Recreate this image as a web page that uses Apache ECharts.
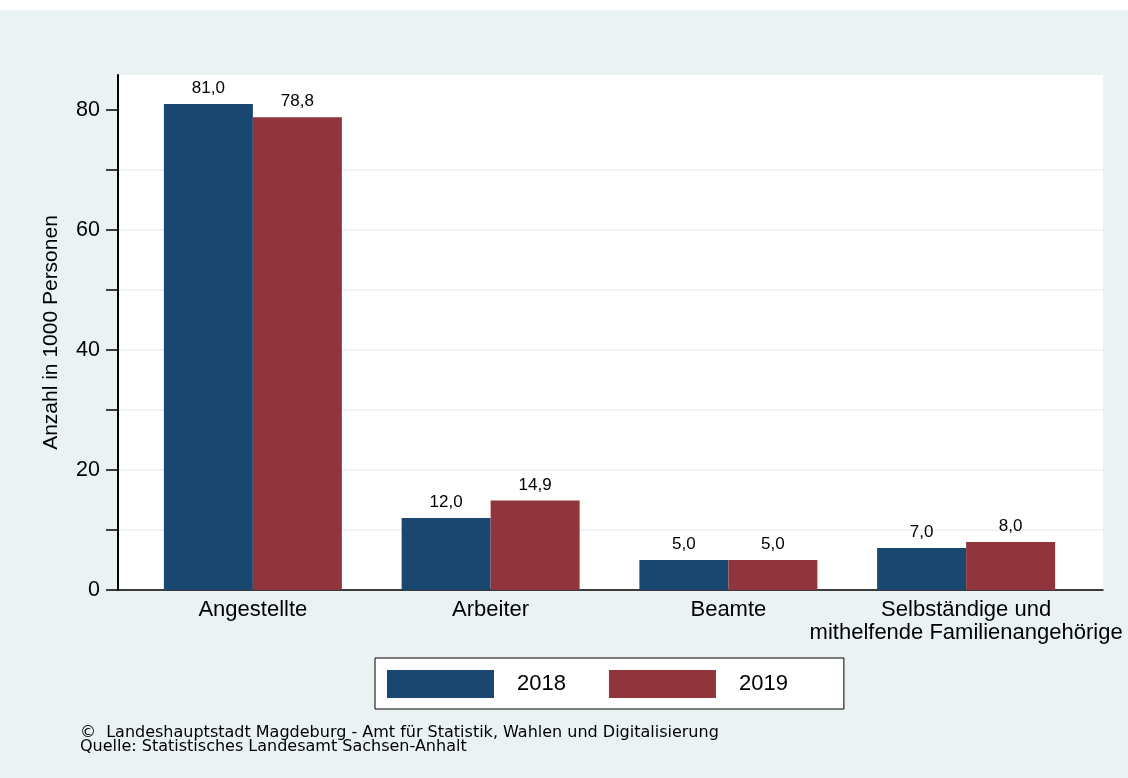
<!DOCTYPE html>
<html>
<head>
<meta charset="utf-8">
<script src="https://cdn.jsdelivr.net/npm/echarts@6/dist/echarts.min.js"></script>
<style>
html,body{margin:0;padding:0;background:#ffffff;}
#chart{width:1128px;height:778px;}
</style>
</head>
<body>
<div id="chart"></div>
<script>
const categories = ['Angestellte', 'Arbeiter', 'Beamte', 'Selbständige und\nmithelfende Familienangehörige'];
const seriesNames = ['2018', '2019'];
const values2018 = [81.0, 12.0, 5.0, 7.0];
const values2019 = [78.8, 14.9, 5.0, 8.0];
const yTickValues = [0, 10, 20, 30, 40, 50, 60, 70, 80];
const yLabelValues = [0, 20, 40, 60, 80];
const yAxisName = 'Anzahl in 1000 Personen';
const footerLines = ['©  Landeshauptstadt Magdeburg - Amt für Statistik, Wahlen und Digitalisierung', 'Quelle: Statistisches Landesamt Sachsen-Anhalt'];

const FONT = 'Liberation Sans, Arial, sans-serif';
const yMin = 0, yMax = 85.83;
const fmt = v => v.toFixed(1).replace('.', ',');

const chart = echarts.init(document.getElementById('chart'), null, {renderer: 'canvas'});

const labelCfg = {
  show: true, position: 'top', distance: 7,
  fontFamily: FONT, fontSize: 17, color: '#000',
  formatter: p => fmt(p.value)
};

chart.setOption({
  backgroundColor: '#eaf2f3',
  animation: false,
  textStyle: {fontFamily: FONT},
  graphic: [
    {type: 'rect', shape: {x: 0, y: 0, width: 1128, height: 10}, style: {fill: '#ffffff'}, z: -1},
    {type: 'text', left: 80, top: 725, style: {text: footerLines.join('\n'), font: '16px "DejaVu Sans", sans-serif', fill: '#000', lineHeight: 13.5}}
  ],
  grid: [
    {left: 118, top: 75, width: 985, height: 515, show: true, backgroundColor: '#ffffff', borderWidth: 0, containLabel: false},
    {left: 134, top: 75, width: 951, height: 515, containLabel: false}
  ],
  legend: {
    data: seriesNames,
    left: 375, top: 658,
    orient: 'horizontal',
    backgroundColor: '#ffffff',
    borderColor: '#000000', borderWidth: 1, borderRadius: 0,
    padding: [12, 56, 11, 12],
    itemWidth: 107, itemHeight: 28, itemGap: 43,
    icon: 'rect',
    textStyle: {fontFamily: FONT, fontSize: 22, color: '#000', padding: [0, 0, 0, 18]}
  },
  xAxis: [
    {gridIndex: 0, type: 'value', min: 0, max: 1,
     axisLine: {show: true, onZero: false, lineStyle: {color: '#000', width: 1.5}},
     axisTick: {show: false}, axisLabel: {show: false}, splitLine: {show: false}},
    {gridIndex: 1, type: 'category', data: categories,
     axisLine: {show: false}, axisTick: {show: false},
     axisLabel: {fontFamily: FONT, fontSize: 22, color: '#000', margin: 8, lineHeight: 23, interval: 0}}
  ],
  yAxis: [
    {gridIndex: 0, type: 'value', min: yMin, max: yMax, interval: 10,
     name: yAxisName, nameLocation: 'middle', nameGap: 56, nameRotate: 90,
     nameTextStyle: {fontFamily: FONT, fontSize: 21, color: '#000'},
     axisLine: {show: true, lineStyle: {color: '#000', width: 2}},
     axisTick: {show: true, length: 12, customValues: yTickValues, lineStyle: {color: '#000', width: 1.5}},
     axisLabel: {customValues: yLabelValues, fontFamily: FONT, fontSize: 21.5, color: '#000', margin: 18},
     splitLine: {show: true, showMaxLine: false, lineStyle: {color: '#eaf2f3', width: 1.5}}},
    {gridIndex: 1, type: 'value', min: yMin, max: yMax, show: false, splitLine: {show: false}}
  ],
  series: [
    {name: seriesNames[0], type: 'bar', xAxisIndex: 1, yAxisIndex: 1, data: values2018,
     barWidth: 89, barGap: '0%', itemStyle: {color: '#1a476f'}, label: labelCfg},
    {name: seriesNames[1], type: 'bar', xAxisIndex: 1, yAxisIndex: 1, data: values2019,
     barWidth: 89, barGap: '0%', itemStyle: {color: '#90353b'}, label: labelCfg}
  ]
});
</script>
</body>
</html>
